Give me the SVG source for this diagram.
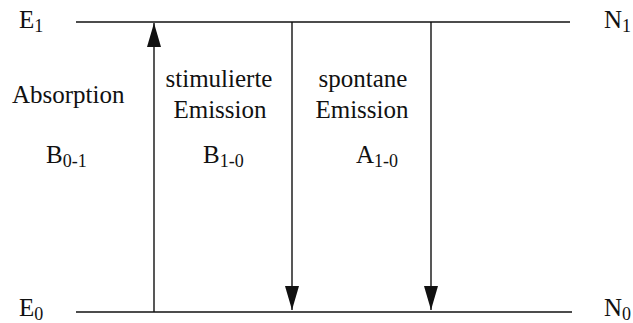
<svg xmlns="http://www.w3.org/2000/svg" width="633" height="323" viewBox="0 0 633 323" font-family="'Liberation Serif', 'Times New Roman', Times, serif">
<style>
text{font-size:25px;fill:#111}
.sub{font-size:18px}
.lvl{stroke:#111;stroke-width:1.6;fill:none}
.tr{stroke:#111;stroke-width:1.4;fill:none}
</style>
<defs>
<marker id="ah" viewBox="0 0 24 14" refX="24" refY="7" markerWidth="24" markerHeight="14" markerUnits="userSpaceOnUse" orient="auto">
<path d="M0,0 L24,7 L0,14 Z" fill="#111"/>
</marker>
</defs>
<rect width="633" height="323" fill="#fff"/>
<g id="levels">
<g id="E1-level"><line class="lvl" x1="76" y1="22" x2="570" y2="22"/><text x="19" y="28">E<tspan class="sub" dy="4">1</tspan></text><text x="604" y="28">N<tspan class="sub" dy="4">1</tspan></text></g>
<g id="E0-level"><line class="lvl" x1="76" y1="312" x2="572" y2="312"/><text x="19" y="316">E<tspan class="sub" dy="4">0</tspan></text><text x="604" y="316">N<tspan class="sub" dy="4">0</tspan></text></g>
</g>
<g id="absorption"><text x="12" y="103">Absorption</text><text x="46" y="163">B<tspan class="sub" dy="4">0-1</tspan></text></g>
<g id="stimulated"><text x="219" y="87" text-anchor="middle">stimulierte</text><text x="220" y="118" text-anchor="middle">Emission</text><text x="203" y="163">B<tspan class="sub" dy="4">1-0</tspan></text></g>
<g id="spontaneous"><text x="363" y="87" text-anchor="middle">spontane</text><text x="362" y="118" text-anchor="middle">Emission</text><text x="356" y="163">A<tspan class="sub" dy="4">1-0</tspan></text></g>
<g id="connectors">
<line class="tr" x1="154" y1="312" x2="154" y2="23" marker-end="url(#ah)"/>
<line class="tr" x1="292" y1="22" x2="292" y2="310" marker-end="url(#ah)"/>
<line class="tr" x1="431" y1="22" x2="431" y2="310" marker-end="url(#ah)"/>
</g>
</svg>
